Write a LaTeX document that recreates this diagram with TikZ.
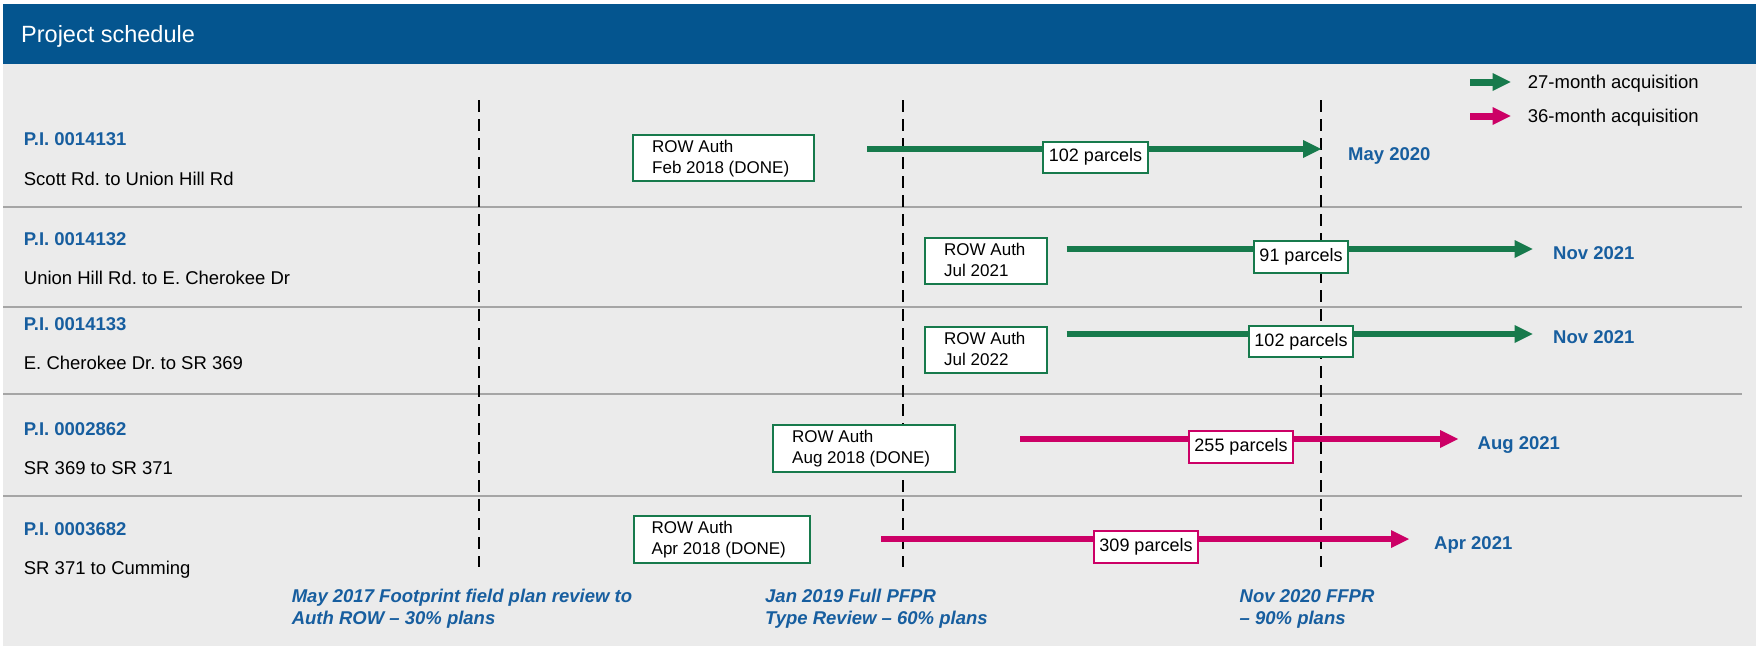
\documentclass[tikz,border=0pt]{standalone}
\usepackage{fontspec}
\setmainfont{Liberation Sans}
\usetikzlibrary{arrows.meta}
\frenchspacing
\definecolor{hdrblue}{HTML}{04558F}
\definecolor{txtblue}{HTML}{175E9F}
\definecolor{grn}{HTML}{177A4C}
\definecolor{mag}{HTML}{CC0066}
\definecolor{bggray}{HTML}{EBEBEB}
\definecolor{sepgray}{HTML}{A5A5A5}
\tikzset{
  lbl/.style={inner sep=0pt, anchor=base west, font=\fontsize{18.5}{22}\selectfont},
  pilbl/.style={lbl, text=txtblue, font=\bfseries\fontsize{18.5}{22}\selectfont},
  endlbl/.style={lbl, text=txtblue, font=\bfseries\fontsize{18.5}{22}\selectfont},
  milestone/.style={lbl, text=txtblue, font=\bfseries\itshape\fontsize{18.5}{22}\selectfont},
  rowbox/.style={draw=grn, line width=2pt, fill=white, inner sep=0pt, anchor=north west},
  boxtxt/.style={inner sep=0pt, anchor=base west, font=\fontsize{17}{21}\selectfont},
  parcel/.style={draw=#1, line width=2pt, fill=white, inner sep=0pt, minimum height=31pt, font=\fontsize{18}{21}\selectfont},
  acq/.style={draw=#1, line width=6pt, -{Triangle[length=18pt,width=18pt,line width=0pt]}},
  legacq/.style={draw=#1, line width=7pt, -{Triangle[length=18pt,width=18pt,line width=0pt]}},
  dashv/.style={black, line width=2.8pt, dash pattern=on 12pt off 7pt},
  sepline/.style={sepgray, line width=2.5pt}
}
\begin{document}
\begin{tikzpicture}[x=1pt,y=-1pt]
\useasboundingbox (0,0) rectangle (1756,646);
\fill[bggray] (3,64) rectangle (1756,646);
\fill[hdrblue] (3,4) rectangle (1756,64);
\node[anchor=base west, inner sep=0pt, text=white, font=\fontsize{23.5}{28}\selectfont] (title) at (21,42.3) {Project schedule};

% separators
\foreach \y in {207,307,394,496} {\draw[sepline] (3,\y) -- (1742,\y);}

% milestone dashed lines
\foreach \x [count=\i] in {479,903,1321} {
  \coordinate (dt\i) at (\x,100);
  \coordinate (db\i) at (\x,567);
  \draw[dashv] (dt\i) -- (db\i);
}

% legend
\coordinate (lg1s) at (1470,82);  \coordinate (lg1e) at (1510.7,82);
\coordinate (lg2s) at (1470,116); \coordinate (lg2e) at (1510.7,116);
\draw[legacq=grn] (lg1s) -- (lg1e);
\draw[legacq=mag] (lg2s) -- (lg2e);
\node[lbl] (lg1t) at (1527.7,88.6) {27-month acquisition};
\node[lbl] (lg2t) at (1527.7,122.6) {36-month acquisition};

% left labels
\node[pilbl] (pi1) at (23.7,145.6) {P.I. 0014131};
\node[lbl]   (rd1) at (23.7,185)   {Scott Rd. to Union Hill Rd};
\node[pilbl] (pi2) at (23.7,245.6) {P.I. 0014132};
\node[lbl]   (rd2) at (23.7,284.6) {Union Hill Rd. to E. Cherokee Dr};
\node[pilbl] (pi3) at (23.7,330.6) {P.I. 0014133};
\node[lbl]   (rd3) at (23.7,369.6) {E. Cherokee Dr. to SR 369};
\node[pilbl] (pi4) at (23.7,435.6) {P.I. 0002862};
\node[lbl]   (rd4) at (23.7,474.6) {SR 369 to SR 371};
\node[pilbl] (pi5) at (23.7,535.6) {P.I. 0003682};
\node[lbl]   (rd5) at (23.7,574.6) {SR 371 to Cumming};

% ROW boxes
\node[rowbox, minimum width=181pt, minimum height=46pt] (rb1) at (632,134) {};
\node[boxtxt] (rb1a) at (652,152) {ROW Auth};
\node[boxtxt] (rb1b) at (652,173) {Feb 2018 (DONE)};
\node[rowbox, minimum width=122pt, minimum height=46pt] (rb2) at (924,237) {};
\node[boxtxt] (rb2a) at (944,255) {ROW Auth};
\node[boxtxt] (rb2b) at (944,276) {Jul 2021};
\node[rowbox, minimum width=122pt, minimum height=46pt] (rb3) at (924,326) {};
\node[boxtxt] (rb3a) at (944,344) {ROW Auth};
\node[boxtxt] (rb3b) at (944,365) {Jul 2022};
\node[rowbox, minimum width=181.5pt, minimum height=47pt] (rb4) at (772,424) {};
\node[boxtxt] (rb4a) at (792,442) {ROW Auth};
\node[boxtxt] (rb4b) at (792,463) {Aug 2018 (DONE)};
\node[rowbox, minimum width=176pt, minimum height=47pt] (rb5) at (633,515) {};
\node[boxtxt] (rb5a) at (651.5,533) {ROW Auth};
\node[boxtxt] (rb5b) at (651.5,554) {Apr 2018 (DONE)};

% acquisition arrows
\coordinate (s1) at (867,149);   \coordinate (e1) at (1321,149);
\coordinate (s2) at (1066.5,249); \coordinate (e2) at (1532.7,249);
\coordinate (s3) at (1066.5,334); \coordinate (e3) at (1532.7,334);
\coordinate (s4) at (1020,439);  \coordinate (e4) at (1458,439);
\coordinate (s5) at (881,539);   \coordinate (e5) at (1409,539);
\draw[acq=grn] (s1) -- (e1);
\draw[acq=grn] (s2) -- (e2);
\draw[acq=grn] (s3) -- (e3);
\draw[acq=mag] (s4) -- (e4);
\draw[acq=mag] (s5) -- (e5);

\node[parcel=grn, minimum width=105pt] (pc1) at (1095.5,157.2) {102 parcels};
\node[parcel=grn, minimum width=94pt, minimum height=32pt] (pc2) at (1301,257) {91 parcels};
\node[parcel=grn, minimum width=103.5pt] (pc3) at (1301,341.5) {102 parcels};
\node[parcel=mag, minimum width=104pt, minimum height=32pt] (pc4) at (1241,447) {255 parcels};
\node[parcel=mag, minimum width=104pt, minimum height=32pt] (pc5) at (1146,547) {309 parcels};

% end dates
\node[endlbl] (ed1) at (1348,160.6) {May 2020};
\node[endlbl] (ed2) at (1553,259.6) {Nov 2021};
\node[endlbl] (ed3) at (1553,343.6) {Nov 2021};
\node[endlbl] (ed4) at (1477.5,449.6) {Aug 2021};
\node[endlbl] (ed5) at (1434,549.6) {Apr 2021};

% milestones
\node[milestone] (m1a) at (291.6,602.6) {May 2017 Footprint field plan review to};
\node[milestone] (m1b) at (291.6,624.3) {Auth ROW – 30\% plans};
\node[milestone] (m2a) at (765,602.6) {Jan 2019 Full PFPR};
\node[milestone] (m2b) at (765,624.3) {Type Review – 60\% plans};
\node[milestone] (m3a) at (1239.5,602.6) {Nov 2020 FFPR};
\node[milestone] (m3b) at (1239.5,624.3) {– 90\% plans};
\end{tikzpicture}
\end{document}
